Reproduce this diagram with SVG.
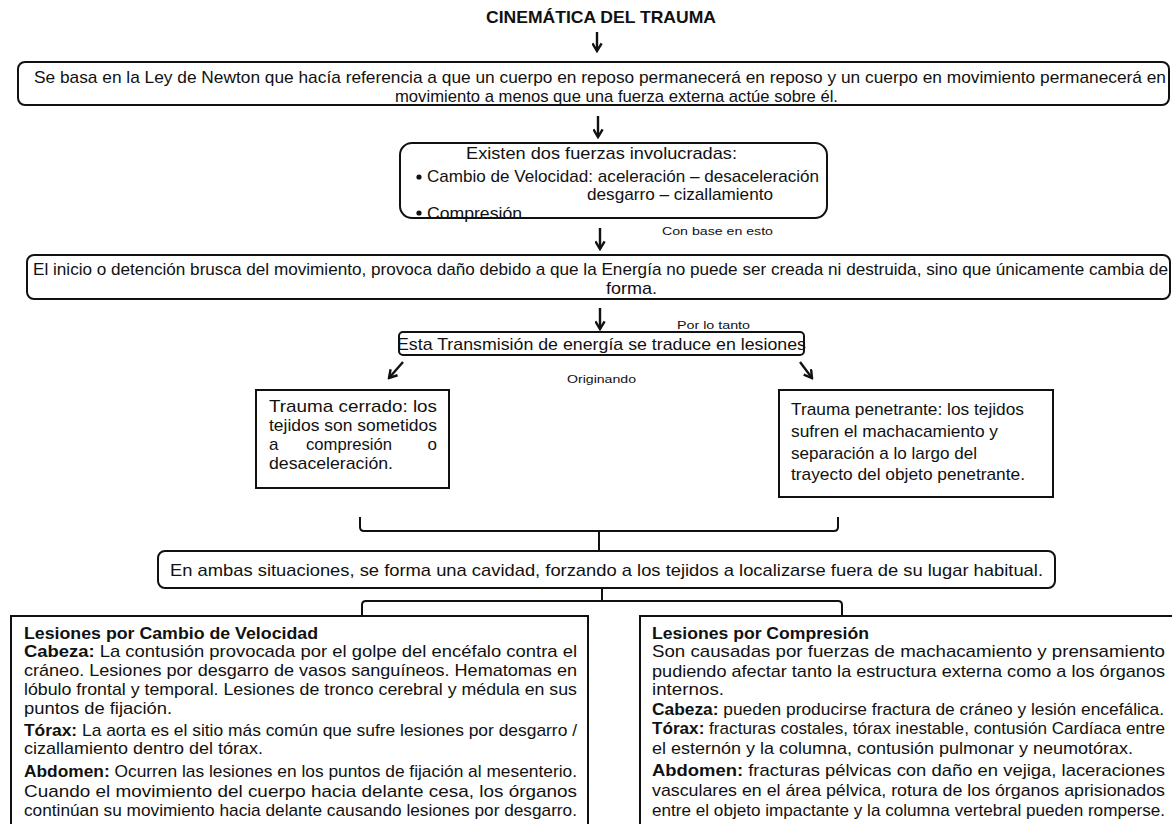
<svg xmlns="http://www.w3.org/2000/svg" width="1172" height="824" viewBox="0 0 1172 824">
<style>
text{font-family:"Liberation Sans",Arial,sans-serif;fill:#111;}
.t{font-size:17px;}
.s{font-size:11px;}
.b{font-weight:bold;}
.box{fill:#fff;stroke:#111;stroke-width:2;}
.con{fill:none;stroke:#111;stroke-width:2;}
.arr{fill:none;stroke:#111;stroke-width:2.4;}
</style>
<defs>
<marker id="ah" viewBox="0 0 10 10" refX="8.5" refY="5" markerWidth="11" markerHeight="11" orient="auto" markerUnits="userSpaceOnUse">
<path d="M1.5,0.8 L8.5,5 L1.5,9.2" fill="none" stroke="#111" stroke-width="2.2"/>
</marker>
</defs>
<rect width="1172" height="824" fill="#fff"/>

<g id="connectors">
<path class="arr" d="M597,32 V51" marker-end="url(#ah)"/>
<path class="arr" d="M598,116 V137" marker-end="url(#ah)"/>
<path class="arr" d="M600,228 V249" marker-end="url(#ah)"/>
<path class="arr" d="M600,308 V329" marker-end="url(#ah)"/>
<path class="arr" d="M403,362 L389,378" marker-end="url(#ah)"/>
<path class="arr" d="M800,362 L812,378" marker-end="url(#ah)"/>
<path class="con" d="M360,517 V527 Q360,531 364,531 H834 Q838,531 838,527 V517 M599,531 V550"/>
<path class="con" d="M602,588 V601 M362,615 V605 Q362,601 366,601 H838 Q842,601 842,605 V615"/>
<text class="s" x="662" y="235" textLength="111" lengthAdjust="spacingAndGlyphs">Con base en esto</text>
<text class="s" x="677" y="329" textLength="73" lengthAdjust="spacingAndGlyphs">Por lo tanto</text>
<text class="s" x="567" y="383" textLength="69" lengthAdjust="spacingAndGlyphs">Originando</text>
</g>

<g id="title">
<text class="t b" x="486" y="23" textLength="230" lengthAdjust="spacingAndGlyphs">CINEMÁTICA DEL TRAUMA</text>
</g>

<g id="newton">
<rect class="box" x="18" y="62" width="1151" height="43" rx="7"/>
<text class="t" x="34" y="83" textLength="1132" lengthAdjust="spacingAndGlyphs">Se basa en la Ley de Newton que hacía referencia a que un cuerpo en reposo permanecerá en reposo y un cuerpo en movimiento permanecerá en</text>
<text class="t" x="395" y="102" textLength="443" lengthAdjust="spacingAndGlyphs">movimiento a menos que una fuerza externa actúe sobre él.</text>
</g>

<g id="fuerzas">
<rect class="box" x="400" y="143" width="427" height="75" rx="12"/>
<text class="t" x="466" y="159" textLength="271" lengthAdjust="spacingAndGlyphs">Existen dos fuerzas involucradas:</text>
<circle cx="419" cy="177" r="2.6" fill="#111"/>
<text class="t" x="427" y="182" textLength="392" lengthAdjust="spacingAndGlyphs">Cambio de Velocidad: aceleración – desaceleración</text>
<text class="t" x="587" y="200" textLength="186" lengthAdjust="spacingAndGlyphs">desgarro – cizallamiento</text>
<circle cx="419" cy="213" r="2.6" fill="#111"/>
<text class="t" x="427" y="219" textLength="95" lengthAdjust="spacingAndGlyphs">Compresión</text>
</g>

<g id="energia">
<rect class="box" x="27" y="255" width="1143" height="44" rx="7"/>
<text class="t" x="33" y="275" textLength="1135" lengthAdjust="spacingAndGlyphs">El inicio o detención brusca del movimiento, provoca daño debido a que la Energía no puede ser creada ni destruida, sino que únicamente cambia de</text>
<text class="t" x="606" y="294" textLength="51" lengthAdjust="spacingAndGlyphs">forma.</text>
</g>

<g id="transmision">
<rect class="box" x="399" y="332" width="405" height="23" rx="4"/>
<text class="t" x="397" y="350" textLength="409" lengthAdjust="spacingAndGlyphs">Esta Transmisión de energía se traduce en lesiones</text>
</g>

<g id="cerrado">
<rect class="box" x="256" y="390" width="193" height="98"/>
<text class="t" x="269" y="412" textLength="168" lengthAdjust="spacingAndGlyphs">Trauma  cerrado:  los</text>
<text class="t" x="269" y="431" textLength="168" lengthAdjust="spacingAndGlyphs">tejidos son sometidos</text>
<text class="t" x="269" y="450">a</text>
<text class="t" x="306" y="450" textLength="86" lengthAdjust="spacingAndGlyphs">compresión</text>
<text class="t" x="437" y="450" text-anchor="end">o</text>
<text class="t" x="269" y="469" textLength="124" lengthAdjust="spacingAndGlyphs">desaceleración.</text>
</g>

<g id="penetrante">
<rect class="box" x="779" y="390" width="274" height="107"/>
<text class="t" x="791" y="415" textLength="233" lengthAdjust="spacingAndGlyphs">Trauma penetrante: los tejidos</text>
<text class="t" x="791" y="437" textLength="207" lengthAdjust="spacingAndGlyphs">sufren el machacamiento y</text>
<text class="t" x="791" y="459" textLength="186" lengthAdjust="spacingAndGlyphs">separación a lo largo del</text>
<text class="t" x="791" y="480" textLength="234" lengthAdjust="spacingAndGlyphs">trayecto del objeto penetrante.</text>
</g>

<g id="cavidad">
<rect class="box" x="158" y="551" width="897" height="37" rx="7"/>
<text class="t" x="170" y="576" textLength="873" lengthAdjust="spacingAndGlyphs">En ambas situaciones, se forma una cavidad, forzando a los tejidos a localizarse fuera de su lugar habitual.</text>
</g>

<g id="velocidad">
<rect class="box" x="11" y="616" width="577" height="220"/>
<text class="t b" x="24" y="639" textLength="294" lengthAdjust="spacingAndGlyphs">Lesiones por Cambio de Velocidad</text>
<text class="t" x="24" y="657" textLength="553" lengthAdjust="spacingAndGlyphs"><tspan class="b">Cabeza:</tspan> La contusión provocada por el golpe del encéfalo contra el</text>
<text class="t" x="24" y="676" textLength="553" lengthAdjust="spacingAndGlyphs">cráneo. Lesiones por desgarro de vasos sanguíneos. Hematomas en</text>
<text class="t" x="24" y="695" textLength="553" lengthAdjust="spacingAndGlyphs">lóbulo frontal y temporal. Lesiones de tronco cerebral y médula en sus</text>
<text class="t" x="24" y="714" textLength="148" lengthAdjust="spacingAndGlyphs">puntos de fijación.</text>
<text class="t" x="24" y="736" textLength="553" lengthAdjust="spacingAndGlyphs"><tspan class="b">Tórax:</tspan> La aorta es el sitio más común que sufre lesiones por desgarro /</text>
<text class="t" x="24" y="754" textLength="239" lengthAdjust="spacingAndGlyphs">cizallamiento dentro del tórax.</text>
<text class="t" x="24" y="777" textLength="553" lengthAdjust="spacingAndGlyphs"><tspan class="b">Abdomen:</tspan> Ocurren las lesiones en los puntos de fijación al mesenterio.</text>
<text class="t" x="24" y="797" textLength="553" lengthAdjust="spacingAndGlyphs">Cuando el movimiento del cuerpo hacia delante cesa, los órganos</text>
<text class="t" x="24" y="816" textLength="553" lengthAdjust="spacingAndGlyphs">continúan su movimiento hacia delante causando lesiones por desgarro.</text>
</g>

<g id="compresion">
<rect class="box" x="640" y="616" width="540" height="220"/>
<text class="t b" x="652" y="639" textLength="217" lengthAdjust="spacingAndGlyphs">Lesiones por Compresión</text>
<text class="t" x="652" y="657" textLength="513" lengthAdjust="spacingAndGlyphs">Son causadas por fuerzas de machacamiento y prensamiento</text>
<text class="t" x="652" y="677" textLength="513" lengthAdjust="spacingAndGlyphs">pudiendo afectar tanto la estructura externa como a los órganos</text>
<text class="t" x="652" y="695" textLength="72" lengthAdjust="spacingAndGlyphs">internos.</text>
<text class="t" x="652" y="715" textLength="512" lengthAdjust="spacingAndGlyphs"><tspan class="b">Cabeza:</tspan> pueden producirse fractura de cráneo y lesión encefálica.</text>
<text class="t" x="652" y="734" textLength="513" lengthAdjust="spacingAndGlyphs"><tspan class="b">Tórax:</tspan> fracturas costales, tórax inestable, contusión Cardíaca entre</text>
<text class="t" x="652" y="754" textLength="481" lengthAdjust="spacingAndGlyphs">el esternón y la columna, contusión pulmonar y neumotórax.</text>
<text class="t" x="652" y="776" textLength="513" lengthAdjust="spacingAndGlyphs"><tspan class="b">Abdomen:</tspan> fracturas pélvicas con daño en vejiga, laceraciones</text>
<text class="t" x="652" y="796" textLength="513" lengthAdjust="spacingAndGlyphs">vasculares en el área pélvica, rotura de los órganos aprisionados</text>
<text class="t" x="652" y="816" textLength="513" lengthAdjust="spacingAndGlyphs">entre el objeto impactante y la columna vertebral pueden romperse.</text>
</g>
</svg>
